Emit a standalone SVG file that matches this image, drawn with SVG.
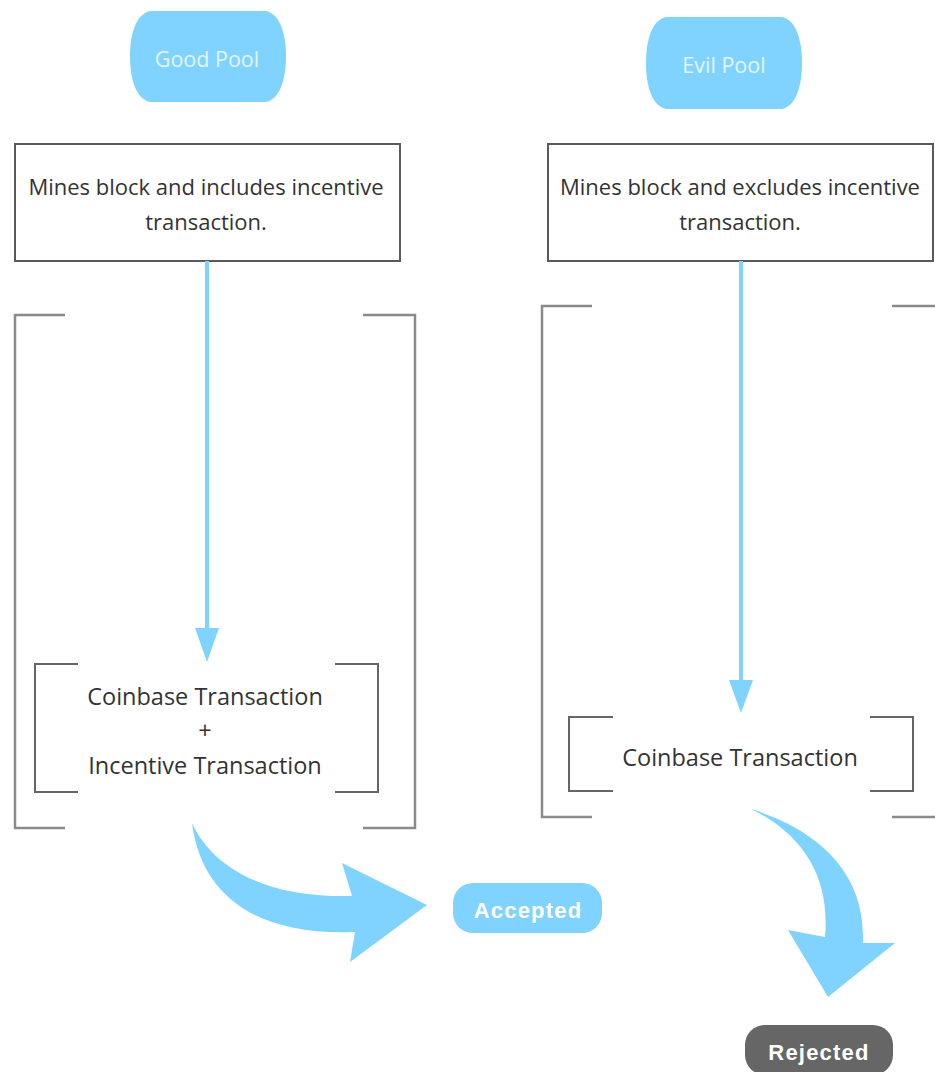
<svg xmlns="http://www.w3.org/2000/svg" width="935" height="1072" viewBox="0 0 935 1072">
  <style>
    .pool { fill: #80d3fe; }
    .pool-label { font-family: "Open Sans", "Noto Sans", sans-serif; font-size: 21.5px; fill: #e3f5ff; text-anchor: middle; }
    .box { fill: #ffffff; stroke: #5a5a5a; stroke-width: 2; }
    .box-label { font-family: "Open Sans", "Noto Sans", sans-serif; font-size: 22px; fill: #333333; text-anchor: middle; }
    .tx-label { font-family: "Open Sans", "Noto Sans", sans-serif; font-size: 23.5px; fill: #333333; text-anchor: middle; }
    .outer { fill: none; stroke: #8a8a8a; stroke-width: 2.5; }
    .inner { fill: none; stroke: #666666; stroke-width: 2; }
    .flow { fill: none; stroke: #80d3fe; stroke-width: 4; }
    .big-arrow { fill: #80d3fe; }
    .pill-label { font-family: "Liberation Sans", Arial, sans-serif; font-weight: bold; font-size: 22px; fill: #ffffff; text-anchor: middle; letter-spacing: 1.2px; }
  </style>

  <rect width="935" height="1072" fill="#ffffff"/>

  <!-- pools: flat top/bottom with bulging sides -->
  <g id="good-pool">
    <path class="pool" d="M150,11 H266 C280,14 286,34 286,56 C286,79 280,99 266,102 H150 C136,99 130,79 130,56 C130,34 136,14 150,11 Z"/>
    <text class="pool-label" x="207" y="67">Good Pool</text>
  </g>
  <g id="evil-pool">
    <path class="pool" d="M666,17 H782 C796,20 802,40 802,63 C802,86 796,106 782,109 H666 C652,106 646,86 646,63 C646,40 652,20 666,17 Z"/>
    <text class="pool-label" x="724" y="73">Evil Pool</text>
  </g>

  <!-- mining steps -->
  <g id="good-mines">
    <rect class="box" x="15" y="144" width="385" height="117"/>
    <text class="box-label" x="206" y="195">Mines block and includes incentive</text>
    <text class="box-label" x="206" y="230">transaction.</text>
  </g>
  <g id="evil-mines">
    <rect class="box" x="548" y="144" width="385" height="117"/>
    <text class="box-label" x="740" y="195">Mines block and excludes incentive</text>
    <text class="box-label" x="740" y="230">transaction.</text>
  </g>

  <!-- block brackets -->
  <g id="good-block">
    <path class="outer" d="M65,315 H15 V828 H65"/>
    <path class="outer" d="M363,315 H415 V828 H363"/>
  </g>
  <g id="evil-block">
    <path class="outer" d="M592,306 H542 V817 H592"/>
    <path class="outer" d="M892,306 H937"/>
    <path class="outer" d="M892,817 H937"/>
  </g>

  <!-- transaction contents -->
  <g id="good-transactions">
    <path class="inner" d="M78,664 H35 V792 H78"/>
    <path class="inner" d="M335,664 H378 V792 H335"/>
    <text class="tx-label" x="205" y="705">Coinbase Transaction</text>
    <text class="tx-label" x="205" y="739">+</text>
    <text class="tx-label" x="205" y="774">Incentive Transaction</text>
  </g>
  <g id="evil-transactions">
    <path class="inner" d="M613,717 H569 V791 H613"/>
    <path class="inner" d="M870,717 H913 V791 H870"/>
    <text class="tx-label" x="740" y="766">Coinbase Transaction</text>
  </g>

  <!-- outcomes -->
  <g id="accepted">
    <rect x="453" y="883" width="149" height="50" rx="20" fill="#80d3fe"/>
    <text class="pill-label" x="528" y="918">Accepted</text>
  </g>
  <g id="rejected">
    <rect x="745" y="1025" width="148" height="50" rx="20" fill="#666666"/>
    <text class="pill-label" x="819" y="1060">Rejected</text>
  </g>

  <!-- connectors -->
  <g id="connectors">
    <path class="flow" d="M207,261 V630"/>
    <path d="M195,628 L219,628 L207,662 Z" fill="#80d3fe"/>
    <path class="flow" d="M741,261 V682"/>
    <path d="M729,680 L753,680 L741,713 Z" fill="#80d3fe"/>
    <path class="big-arrow" d="M192,823 C212,866 262,898 352,896 L342,863 L427,905 L350,962 L355,932 C262,936 202,900 192,823 Z"/>
    <path class="big-arrow" d="M751,809 C812,828 866,868 863,943 L895,943 L828,997 L788,930 L825,937 C830,880 806,836 751,809 Z"/>
  </g>
</svg>
